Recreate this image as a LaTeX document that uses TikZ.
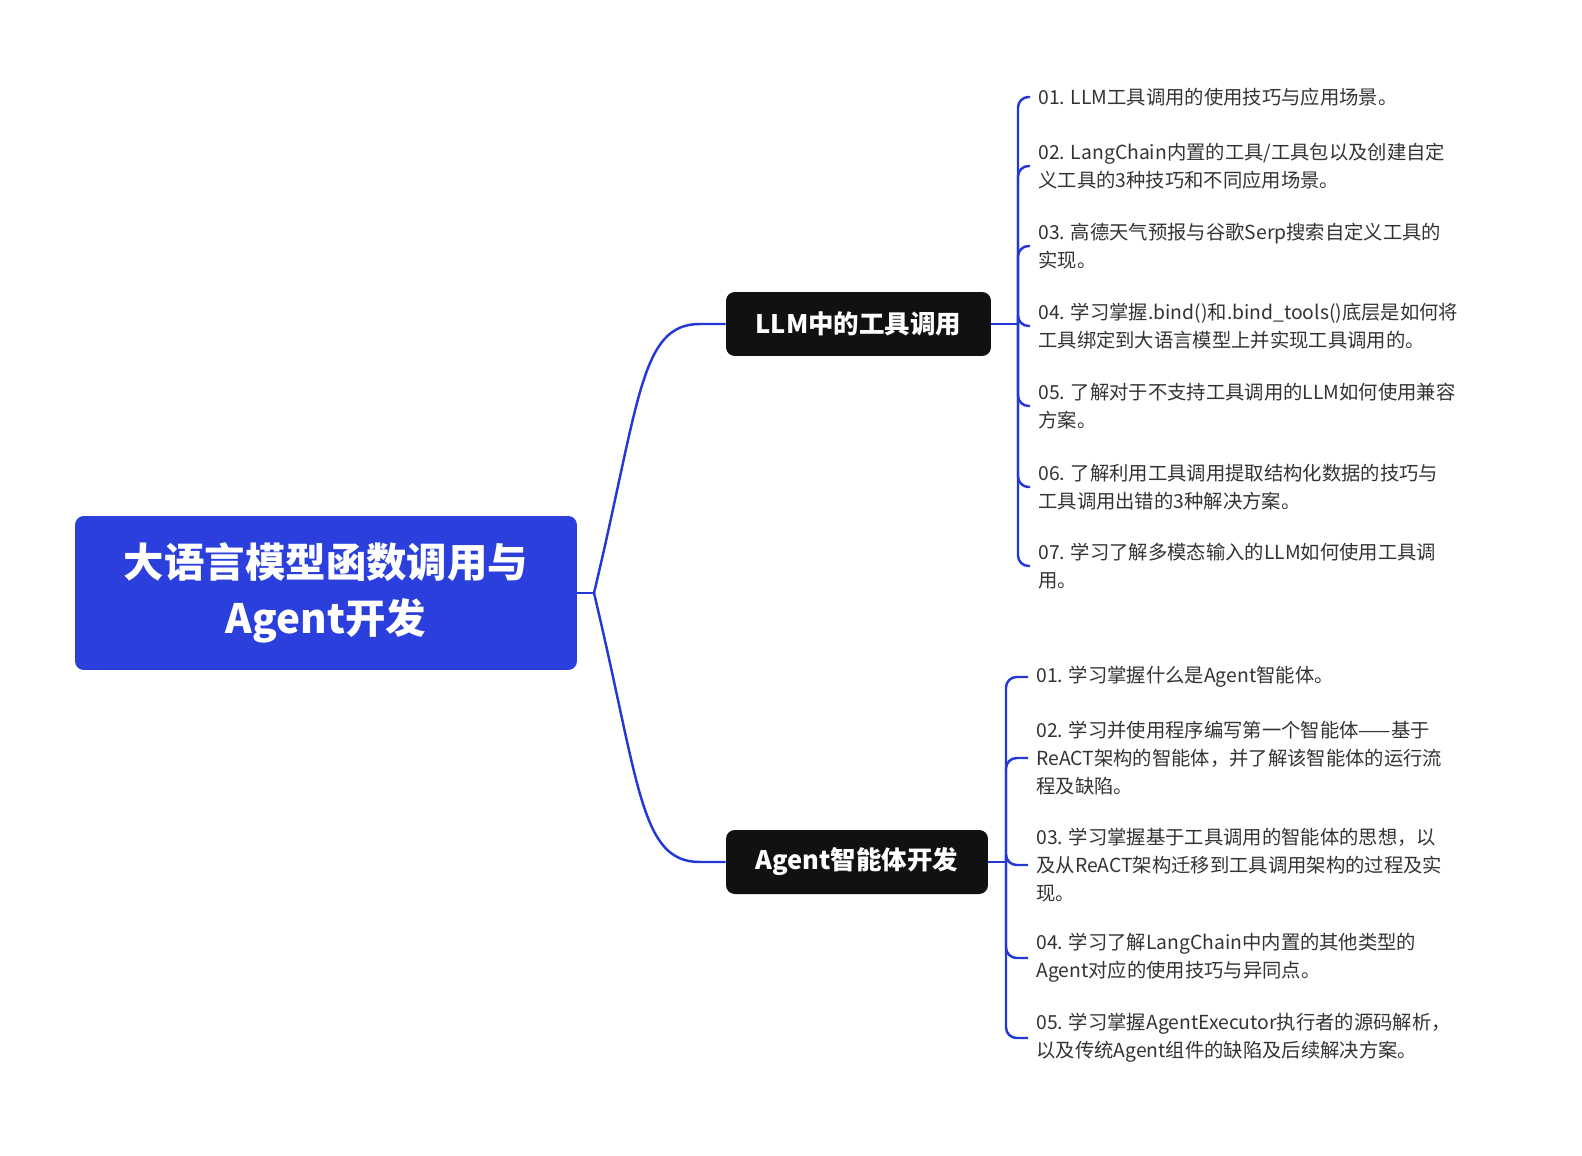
\documentclass[tikz,border=0pt]{standalone}
\usepackage{fontspec}
\setmainfont{Noto Sans CJK SC}
\usetikzlibrary{positioning}
\definecolor{rootblue}{HTML}{2A3FDB}
\definecolor{linkblue}{HTML}{2438D8}
\definecolor{topicblack}{HTML}{111111}
\begin{document}
\begin{tikzpicture}[x=0.02cm,y=-0.02cm]
	\tikzset{rootbox/.style={fill=rootblue,rounded corners=5pt,text=white,font=\fontsize{23}{32}\selectfont\bfseries,align=center,minimum width=10.04cm,minimum height=3.08cm,inner sep=0pt},
		topicbox/.style={fill=topicblack,rounded corners=5pt,text=white,font=\fontsize{14.5}{18}\selectfont\bfseries,minimum height=1.28cm,inner sep=0pt},
		item/.style={anchor=west,align=left,inner sep=0pt,text=black!80,font=\fontsize{11}{16}\selectfont},
		link/.style={draw=linkblue,line width=1.4pt,rounded corners=6pt}}
	\useasboundingbox (0,0) rectangle (1582,1156);
	% root and topics
	\node[rootbox] (root) at (326,593) {大语言模型函数调用与\\Agent开发};
	\node[topicbox,minimum width=5.3cm] (tools) at (858.5,324) {LLM中的工具调用};
	\node[topicbox,minimum width=5.24cm] (agent) at (857,862) {Agent智能体开发};
	\coordinate (fork) at (594,593);
	\draw[link] (root.east) -- (fork);
	\draw[link,rounded corners=0pt] (fork) .. controls (640,400) and (640,324) .. (700,324) -- (tools.west);
	\draw[link,rounded corners=0pt] (fork) .. controls (640,786) and (640,862) .. (700,862) -- (agent.west);
	% items of the first topic
	\coordinate (tspine) at (1018,324);
	\draw[link] (tools.east) -- (tspine);
	\foreach \y/\txt [count=\n] in {
		97/{01. LLM工具调用的使用技巧与应用场景。},
		166/{02. LangChain内置的工具/工具包以及创建自定\\义工具的3种技巧和不同应用场景。},
		246/{03. 高德天气预报与谷歌Serp搜索自定义工具的\\实现。},
		326/{04. 学习掌握.bind()和.bind\_tools()底层是如何将\\工具绑定到大语言模型上并实现工具调用的。},
		406/{05. 了解对于不支持工具调用的LLM如何使用兼容\\方案。},
		487/{06. 了解利用工具调用提取结构化数据的技巧与\\工具调用出错的3种解决方案。},
		566/{07. 学习了解多模态输入的LLM如何使用工具调\\用。}}{
		\node[item] (t\n) at (1038,\y) {\txt};
		\draw[link] (tspine) -- (1018,\y) -- (1030,\y);
	}
	% items of the second topic
	\coordinate (aspine) at (1006,862);
	\draw[link] (agent.east) -- (aspine);
	\foreach \y/\txt [count=\n] in {
		677/{01. 学习掌握什么是Agent智能体。},
		758/{02. 学习并使用程序编写第一个智能体——基于\\ReACT架构的智能体，并了解该智能体的运行流\\程及缺陷。},
		865/{03. 学习掌握基于工具调用的智能体的思想，以\\及从ReACT架构迁移到工具调用架构的过程及实\\现。},
		958/{04. 学习了解LangChain中内置的其他类型的\\Agent对应的使用技巧与异同点。},
		1038/{05. 学习掌握AgentExecutor执行者的源码解析，\\以及传统Agent组件的缺陷及后续解决方案。}}{
		\node[item] (a\n) at (1036,\y) {\txt};
		\draw[link] (aspine) -- (1006,\y) -- (1028,\y);
	}
\end{tikzpicture}
\end{document}
